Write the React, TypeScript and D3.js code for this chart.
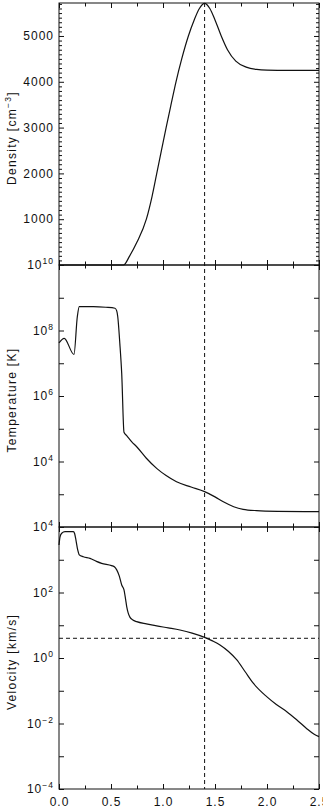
import React, { useRef, useEffect } from "react";
import * as d3 from "d3";

// x positions are shared by all three panels
const xDomain = [0, 2.5];
const xMajor = [0, 0.5, 1.0, 1.5, 2.0, 2.5];
const xMinor = [0.25, 0.75, 1.25, 1.75, 2.25];
const xLabels = ["0.0", "0.5", "1.0", "1.5", "2.0", "2.5"];

// reference markers
const markerX = 1.4;
const markerVelocity = 4;

// density [cm^-3]
const densityX = [0, 0.62, 0.68, 0.75, 0.84, 0.895, 0.94, 0.985, 1.03, 1.077, 1.125, 1.18, 1.244, 1.3, 1.35, 1.4, 1.45, 1.5, 1.56, 1.62, 1.7, 1.8, 1.9, 2.0, 2.2, 2.5];
const densityY = [0, 0, 200, 500, 1000, 1500, 2000, 2500, 3000, 3500, 4000, 4500, 5000, 5350, 5600, 5710, 5600, 5350, 5000, 4700, 4450, 4320, 4270, 4255, 4250, 4250];
const densityDomain = [0, 5720];
const densityLabels = [1000, 2000, 3000, 4000, 5000];

// temperature [K], stored as log10
const temperatureX = [0, 0.05, 0.144, 0.176, 0.195, 0.33, 0.45, 0.538, 0.555, 0.565, 0.585, 0.603, 0.625, 0.651, 0.7, 0.747, 0.84, 0.939, 1.03, 1.13, 1.27, 1.4, 1.5, 1.58, 1.68, 1.77, 1.9, 2.1, 2.5];
const temperatureLog = [7.62, 7.76, 7.27, 8.42, 8.73, 8.73, 8.71, 8.68, 8.6, 8.42, 7.6, 6.69, 4.89, 4.79, 4.6, 4.45, 4.1, 3.79, 3.57, 3.38, 3.22, 3.08, 2.92, 2.77, 2.62, 2.54, 2.5, 2.48, 2.47];
const temperatureDomain = [1e2, 1e10];
const temperatureLabels = [1e10, 1e8, 1e6, 1e4];

// velocity [km/s], stored as log10
const velocityX = [0, 0.01, 0.026, 0.058, 0.138, 0.15, 0.163, 0.18, 0.195, 0.234, 0.298, 0.36, 0.41, 0.506, 0.535, 0.555, 0.58, 0.603, 0.625, 0.64, 0.651, 0.665, 0.683, 0.71, 0.747, 0.84, 0.939, 1.05, 1.163, 1.28, 1.4, 1.47, 1.548, 1.63, 1.708, 1.79, 1.868, 1.997, 2.09, 2.19, 2.29, 2.38, 2.45, 2.5];
const velocityLog = [3.45, 3.7, 3.81, 3.86, 3.86, 3.8, 3.6, 3.3, 3.15, 3.09, 3.04, 2.95, 2.89, 2.82, 2.78, 2.69, 2.5, 2.23, 2.08, 1.8, 1.57, 1.38, 1.24, 1.16, 1.11, 1.04, 0.98, 0.92, 0.855, 0.76, 0.63, 0.53, 0.4, 0.2, -0.05, -0.42, -0.77, -1.18, -1.42, -1.64, -1.9, -2.15, -2.32, -2.4];
const velocityDomain = [1e-4, 1e4];
const velocityLabels = [1e4, 1e2, 1e0, 1e-2, 1e-4];

const W = 323;
const H = 811;
const ink = "#111";
const font = "'Liberation Sans', Arial, Helvetica, sans-serif";

const StackedProfiles: React.FC = () => {
  const ref = useRef<SVGSVGElement | null>(null);

  useEffect(() => {
    if (!ref.current) return;
    const svg = d3.select(ref.current);
    svg.selectAll("*").remove();

    const left = 59;
    const right = 319;
    const tops = [3, 265, 527];
    const ph = 262;

    const x = d3.scaleLinear().domain(xDomain).range([left, right]);

    const decades = (lo: number, hi: number) =>
      d3.range(lo, hi + 1).map((e) => Math.pow(10, e));

    const panels = [
      {
        y: d3.scaleLinear().domain(densityDomain).range([tops[0] + ph, tops[0]]),
        major: d3.range(0, 6000, 1000),
        minor: d3.range(100, 5720, 100).filter((v) => v % 1000 !== 0),
        labels: densityLabels,
        log: false,
        points: densityX.map((d, i) => [d, densityY[i]] as [number, number]),
      },
      {
        y: d3.scaleLog().domain(temperatureDomain).range([tops[1] + ph, tops[1]]),
        major: decades(2, 10),
        minor: [] as number[],
        labels: temperatureLabels,
        log: true,
        points: temperatureX.map((d, i) => [d, Math.pow(10, temperatureLog[i])] as [number, number]),
      },
      {
        y: d3.scaleLog().domain(velocityDomain).range([tops[2] + ph, tops[2]]),
        major: decades(-4, 4),
        minor: [] as number[],
        labels: velocityLabels,
        log: true,
        points: velocityX.map((d, i) => [d, Math.pow(10, velocityLog[i])] as [number, number]),
      },
    ];

    const tickGroup = (
      axis: d3.Axis<d3.NumberValue>,
      values: number[],
      size: number,
      transform: string
    ) => {
      const g = svg
        .append("g")
        .attr("transform", transform)
        .call(axis.tickValues(values).tickSize(size).tickSizeOuter(0).tickFormat(() => ""));
      g.select(".domain").remove();
      g.selectAll("line").attr("stroke", ink).attr("stroke-width", 1);
    };

    panels.forEach((p, i) => {
      const top = tops[i];
      const bottom = top + ph;

      // curve
      const line = d3
        .line<[number, number]>()
        .x((d) => x(d[0]))
        .y((d) => p.y(d[1]))
        .curve(d3.curveMonotoneX);
      svg
        .append("path")
        .attr("d", line(p.points))
        .attr("fill", "none")
        .attr("stroke", ink)
        .attr("stroke-width", 1.2);

      // y ticks, left and right, pointing inwards
      tickGroup(d3.axisLeft(p.y), p.major, -5, `translate(${left},0)`);
      tickGroup(d3.axisRight(p.y), p.major, -5, `translate(${right},0)`);
      if (p.minor.length) {
        tickGroup(d3.axisLeft(p.y), p.minor, -3, `translate(${left},0)`);
        tickGroup(d3.axisRight(p.y), p.minor, -3, `translate(${right},0)`);
      }
      // x ticks, top and bottom
      tickGroup(d3.axisTop(x), xMajor, -5, `translate(0,${top})`);
      tickGroup(d3.axisBottom(x), xMajor, -5, `translate(0,${bottom})`);
      tickGroup(d3.axisTop(x), xMinor, -3.5, `translate(0,${top})`);
      tickGroup(d3.axisBottom(x), xMinor, -3.5, `translate(0,${bottom})`);

      // frame
      svg
        .append("rect")
        .attr("x", left)
        .attr("y", top)
        .attr("width", right - left)
        .attr("height", ph)
        .attr("fill", "none")
        .attr("stroke", ink)
        .attr("stroke-width", 1);

      // y labels
      const labels = svg
        .append("g")
        .selectAll("text")
        .data(p.labels)
        .join("text")
        .attr("x", left - 5)
        .attr("y", (d) => p.y(d) + 4.3)
        .attr("text-anchor", "end")
        .attr("font-family", font)
        .attr("font-size", 12)
        .attr("letter-spacing", 1)
        .attr("fill", ink);
      if (p.log) {
        labels.each(function (d) {
          const t = d3.select(this);
          const e = Math.round(Math.log10(d));
          t.append("tspan").text("10");
          t.append("tspan")
            .attr("dy", -5)
            .attr("font-size", 8.5)
            .text(e < 0 ? `\u2212${-e}` : `${e}`);
        });
      } else {
        labels.text((d) => `${d}`);
      }
    });

    // axis titles
    const titles: { lead: string; sup?: string; tail: string }[] = [
      { lead: "Density [cm", sup: "\u22123", tail: "]" },
      { lead: "Temperature [K]", tail: "" },
      { lead: "Velocity [km/s]", tail: "" },
    ];
    titles.forEach((t, i) => {
      const cy = tops[i] + ph / 2 + 4;
      const txt = svg
        .append("text")
        .attr("transform", `translate(16,${cy}) rotate(-90)`)
        .attr("text-anchor", "middle")
        .attr("font-family", font)
        .attr("font-size", 12)
        .attr("letter-spacing", 1.3)
        .attr("fill", ink);
      txt.append("tspan").text(t.lead);
      if (t.sup) {
        txt.append("tspan").attr("dy", -5).attr("font-size", 8.5).text(t.sup);
        txt.append("tspan").attr("dy", 5).text(t.tail);
      }
    });

    // x labels
    svg
      .append("g")
      .selectAll("text")
      .data(xMajor)
      .join("text")
      .attr("x", (d) => x(d) + 0.5)
      .attr("y", tops[2] + ph + 16.5)
      .attr("text-anchor", "middle")
      .attr("font-family", font)
      .attr("font-size", 12)
      .attr("letter-spacing", 1)
      .attr("fill", ink)
      .text((d, i) => xLabels[i]);

    // dashed markers
    svg
      .append("line")
      .attr("x1", x(markerX))
      .attr("x2", x(markerX))
      .attr("y1", tops[0])
      .attr("y2", tops[2] + ph)
      .attr("stroke", ink)
      .attr("stroke-width", 1)
      .attr("stroke-dasharray", "4,3");
    const vy = panels[2].y(markerVelocity);
    svg
      .append("line")
      .attr("x1", left)
      .attr("x2", right)
      .attr("y1", vy)
      .attr("y2", vy)
      .attr("stroke", ink)
      .attr("stroke-width", 1)
      .attr("stroke-dasharray", "4,3");
  }, []);

  return (
    <svg
      ref={ref}
      width={W}
      height={H}
      style={{ position: "absolute", left: 0, top: 0, background: "#fff" }}
    />
  );
};

export default function App() {
  return <StackedProfiles />;
}
